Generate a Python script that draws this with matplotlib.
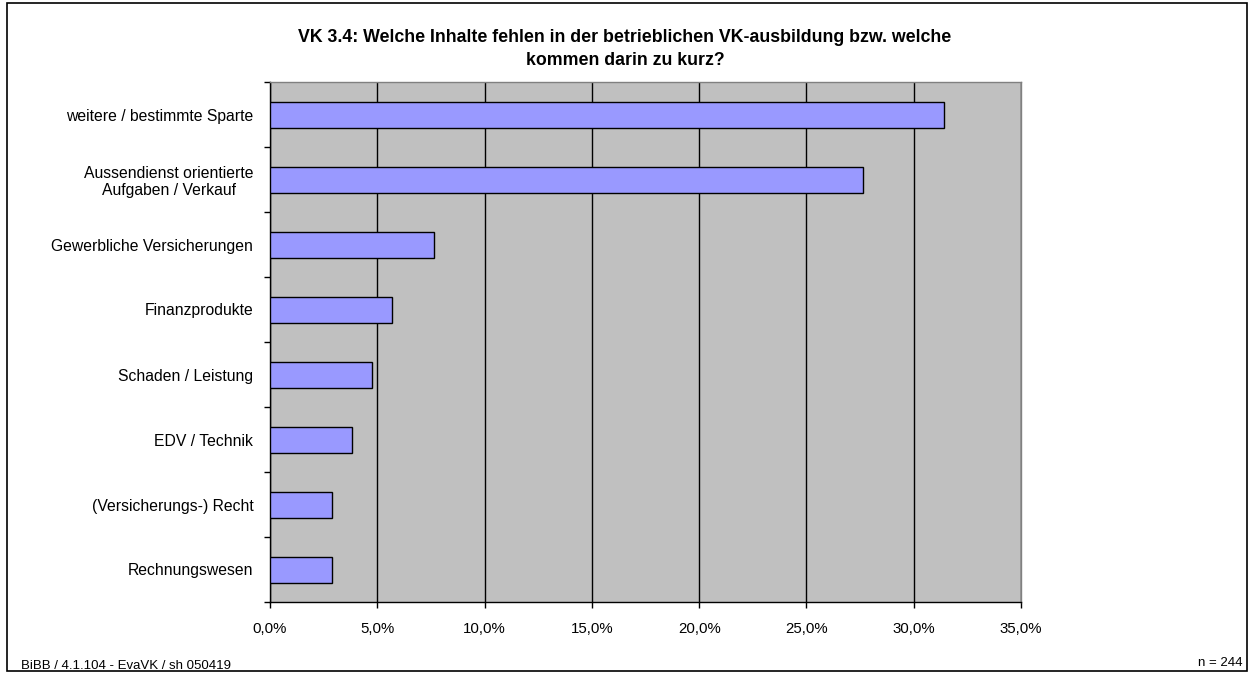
import matplotlib
matplotlib.use("Agg")
import matplotlib.pyplot as plt
from matplotlib.patches import Rectangle
from matplotlib.ticker import FixedLocator, FuncFormatter

plt.rcParams['font.family'] = ['Liberation Sans', 'DejaVu Sans']

categories = [
    "weitere / bestimmte Sparte",
    "Aussendienst orientierte\nAufgaben / Verkauf",
    "Gewerbliche Versicherungen",
    "Finanzprodukte",
    "Schaden / Leistung",
    "EDV / Technik",
    "(Versicherungs-) Recht",
    "Rechnungswesen",
]
values = [31.4, 27.65, 7.65, 5.7, 4.77, 3.82, 2.87, 2.87]
xticks = [0, 5, 10, 15, 20, 25, 30, 35]
title = "VK 3.4: Welche Inhalte fehlen in der betrieblichen VK-ausbildung bzw. welche\nkommen darin zu kurz?"
footer_left = "BiBB / 4.1.104 - EvaVK / sh 050419"
footer_right = "n = 244"

W, H = 1251, 673
fig = plt.figure(figsize=(W / 100, H / 100), dpi=100)
fig.patch.set_facecolor('white')

# axes: x 270..1021, y 82..602 (pixels from top)
ax = fig.add_axes([270 / W, 1 - 602 / H, (1021 - 270) / W, (602 - 82) / H])
ax.set_facecolor('#C0C0C0')

n = len(categories)
ypos = list(range(n))
ax.barh(ypos, values, height=0.4, color='#9999FF', edgecolor='black', linewidth=1.0, zorder=3)

ax.set_xlim(0, 35)
ax.set_ylim(n - 0.5, -0.5)

ax.set_xticks(xticks)
ax.xaxis.set_major_formatter(FuncFormatter(lambda v, p: f"{v:.1f}%".replace('.', ',')))
ax.xaxis.grid(True, color='black', linewidth=1.0, zorder=1)
ax.set_axisbelow(True)

ax.set_yticks(ypos)
ax.set_yticklabels(categories, multialignment='center')
ax.yaxis.set_minor_locator(FixedLocator([i + 0.5 for i in range(-1, n)]))
ax.tick_params(axis='y', which='major', length=0, pad=12, labelsize=11.3)
ax.tick_params(axis='y', which='minor', length=4.5, width=1, color='black', direction='out')
ax.tick_params(axis='x', which='major', length=4, width=1, color='black', direction='out', pad=10.5, labelsize=10.8)

for side in ['left', 'bottom']:
    ax.spines[side].set_color('black')
    ax.spines[side].set_linewidth(1.0)
for side in ['top', 'right']:
    ax.spines[side].set_color('#808080')
    ax.spines[side].set_linewidth(1.0)

# title
fig.text(625 / W, 1 - 49 / H, title, ha='center', va='center', fontsize=12.8,
         fontweight='bold', linespacing=1.45)

# footers
fig.text(21 / W, 1 - 666 / H, footer_left, ha='left', va='center', fontsize=9.5)
fig.text(1242 / W, 1 - 663 / H, footer_right, ha='right', va='center', fontsize=9.5)

# outer frame
fig.patches.append(Rectangle((7 / W, 1 - 671 / H), (1247 - 7) / W, (671 - 3) / H,
                             transform=fig.transFigure, fill=False, edgecolor='black',
                             linewidth=1.2))

fig.savefig('out.png', dpi=100)
